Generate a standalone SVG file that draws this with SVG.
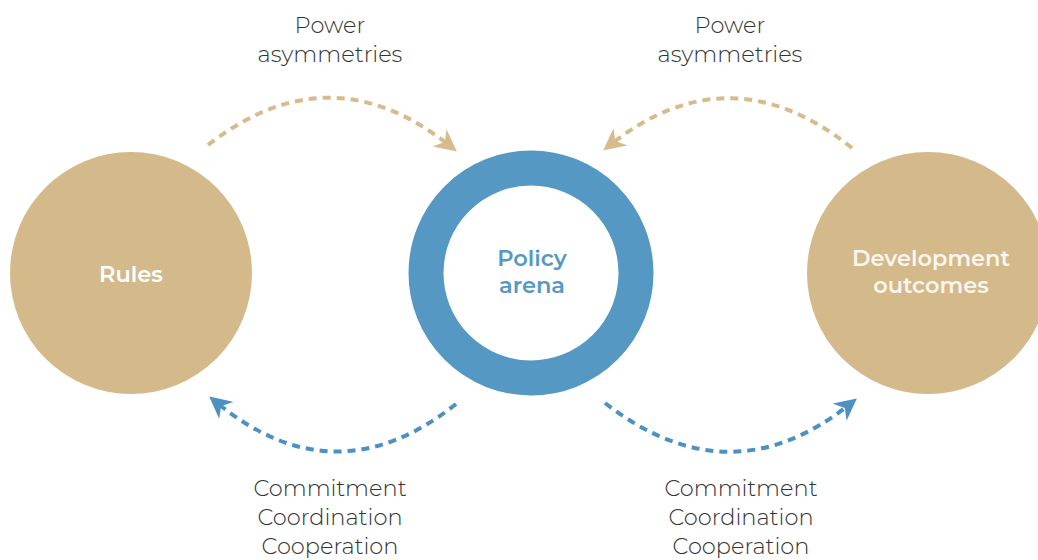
<svg xmlns="http://www.w3.org/2000/svg" width="1038" height="560" viewBox="0 0 1038 560">
<defs>
<style>
.lbl{font-family:"Montserrat","Noto Sans","Liberation Sans",sans-serif;font-size:22.5px;font-weight:300;fill:#333333;text-anchor:middle;}
.node{font-family:"Montserrat","Noto Sans","Liberation Sans",sans-serif;font-size:22.5px;font-weight:600;text-anchor:middle;}
.tan{fill:none;stroke:#d8bb8c;stroke-width:4;stroke-dasharray:8 6;}
.blue{fill:none;stroke:#4d90c2;stroke-width:4;stroke-dasharray:8 6;}
</style>
<marker id="mTan" viewBox="0 0 10 10" refX="6" refY="5" markerWidth="5.5" markerHeight="5.5" orient="auto" markerUnits="strokeWidth">
<path d="M0,0 L10,5 L0,10 L3,5 Z" fill="#d8bb8c"/>
</marker>
<marker id="mBlue" viewBox="0 0 10 10" refX="6" refY="5" markerWidth="5.5" markerHeight="5.5" orient="auto" markerUnits="strokeWidth">
<path d="M0,0 L10,5 L0,10 L3,5 Z" fill="#4d90c2"/>
</marker>
</defs>
<rect width="1038" height="560" fill="#ffffff"/>
<g id="rules">
<circle cx="131" cy="273" r="121" fill="#d4b98a"/>
<text class="node" x="131" y="282" fill="#ffffff">Rules</text>
</g>
<g id="policy-arena">
<circle cx="531" cy="273" r="105" fill="none" stroke="#5598c4" stroke-width="35"/>
<text class="node" x="532" y="266" fill="#5598c4">Policy</text>
<text class="node" x="532" y="293" fill="#5598c4">arena</text>
</g>
<g id="development-outcomes">
<circle cx="928" cy="273" r="121" fill="#d4b98a"/>
<text class="node" x="931" y="266" fill="#fbf6ee">Development</text>
<text class="node" x="931" y="293" fill="#fbf6ee">outcomes</text>
</g>
<g id="connectors">
<path class="tan" d="M208,145 Q330,50 450,146" marker-end="url(#mTan)"/>
<path class="tan" d="M852,148 Q730,50 610,145" marker-end="url(#mTan)"/>
<path class="blue" d="M456,404 Q335,500 216,402" marker-end="url(#mBlue)"/>
<path class="blue" d="M605,403 Q730,500 850,404" marker-end="url(#mBlue)"/>
</g>
<g id="labels">
<text class="lbl" x="330" y="33">Power</text>
<text class="lbl" x="330" y="62">asymmetries</text>
<text class="lbl" x="730" y="33">Power</text>
<text class="lbl" x="730" y="62">asymmetries</text>
<text class="lbl" x="330" y="496">Commitment</text>
<text class="lbl" x="330" y="525">Coordination</text>
<text class="lbl" x="330" y="554">Cooperation</text>
<text class="lbl" x="741" y="496">Commitment</text>
<text class="lbl" x="741" y="525">Coordination</text>
<text class="lbl" x="741" y="554">Cooperation</text>
</g>
</svg>
